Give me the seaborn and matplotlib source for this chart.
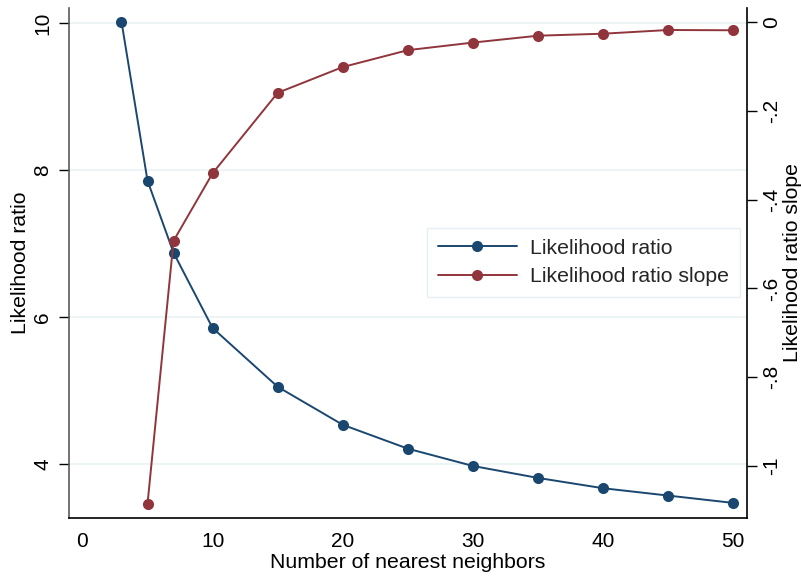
import matplotlib
matplotlib.use("Agg")
import matplotlib.pyplot as plt
import seaborn as sns
import pandas as pd
from matplotlib.lines import Line2D

# Data
k_ratio = [3, 5, 7, 10, 15, 20, 25, 30, 35, 40, 45, 50]
likelihood_ratio = [10.02, 7.855, 6.874, 5.85, 5.05, 4.533, 4.208, 3.973, 3.81, 3.67, 3.57, 3.47]
k_slope = [5, 7, 10, 15, 20, 25, 30, 35, 40, 45, 50]
likelihood_slope = [-1.085, -0.493, -0.341, -0.160, -0.102, -0.064, -0.047, -0.0315, -0.027, -0.0187, -0.0193]

x_ticks = [0, 10, 20, 30, 40, 50]
left_ticks = [4, 6, 8, 10]
right_ticks = [0, -0.2, -0.4, -0.6, -0.8, -1]
right_tick_labels = ["0", "-.2", "-.4", "-.6", "-.8", "-1"]

BLUE = "#1a476f"
RED = "#90353b"
GRID = "#eaf2f3"

sns.set_theme(style="white")
plt.rcParams["font.family"] = ["Liberation Sans", "DejaVu Sans"]

FS = 15
fig = plt.figure(figsize=(8.01, 5.76), dpi=100)
ax = fig.add_axes([69 / 801, 1 - 518 / 576, (747 - 69) / 801, (518 - 8) / 576])
ax2 = ax.twinx()

df1 = pd.DataFrame({"k": k_ratio, "v": likelihood_ratio})
df2 = pd.DataFrame({"k": k_slope, "v": likelihood_slope})

sns.lineplot(data=df1, x="k", y="v", ax=ax, color=BLUE, marker="o", markersize=8,
             markeredgewidth=0, linewidth=1.4, legend=False)
sns.lineplot(data=df2, x="k", y="v", ax=ax2, color=RED, marker="o", markersize=8,
             markeredgewidth=0, linewidth=1.4, legend=False)

ax.set_xlim(-1.03, 51.05)
ax.set_ylim(3.265, 10.204)
ax2.set_ylim(-1.1165, 0.0308)

ax.set_xticks(x_ticks)
ax.set_yticks(left_ticks)
ax.set_yticklabels([str(t) for t in left_ticks], rotation=90, va="center")
ax2.set_yticks(right_ticks)
ax2.set_yticklabels(right_tick_labels, rotation=90, va="center")

for a in (ax, ax2):
    a.tick_params(axis="both", direction="out", length=7, width=1, color="black",
                  labelsize=FS, pad=6, labelcolor="black")
    a.grid(False)
ax.tick_params(axis="x", pad=3)
ax.tick_params(axis="y", pad=5)
ax2.tick_params(axis="y", pad=4)

for t in left_ticks:
    ax.axhline(t, color=GRID, linewidth=1.2, zorder=0)

ax.spines["top"].set_visible(False)
ax2.spines["top"].set_visible(False)
ax.spines["right"].set_visible(False)
ax2.spines["left"].set_visible(False)
ax2.spines["bottom"].set_visible(False)
ax.spines["left"].set_color("#5a5a5a")
ax.spines["bottom"].set_color("black")
ax2.spines["right"].set_color("black")
for s in ("left", "bottom"):
    ax.spines[s].set_linewidth(1.2)
ax2.spines["right"].set_linewidth(1.2)

ax.set_xlabel("Number of nearest neighbors", fontsize=15.3, color="black")
ax.set_ylabel("Likelihood ratio", fontsize=15.3, color="black")
ax2.set_ylabel("Likelihood ratio slope", fontsize=15.3, color="black")
ax.xaxis.set_label_coords(0.5, -0.069)
ax.yaxis.set_label_coords(-0.057, 0.5)
ax2.yaxis.set_label_coords(1.053, 0.5)

handles = [
    Line2D([], [], color=BLUE, marker="o", markersize=8, markeredgewidth=0, linewidth=1.4),
    Line2D([], [], color=RED, marker="o", markersize=8, markeredgewidth=0, linewidth=1.4),
]
leg = ax2.legend(handles, ["Likelihood ratio", "Likelihood ratio slope"],
                 loc="upper right", bbox_to_anchor=(0.9897, 0.5686), borderaxespad=0,
                 fontsize=15.3, frameon=True, fancybox=False, handlelength=3.7,
                 handletextpad=0.65, labelspacing=0.45, borderpad=0.5)
leg.get_frame().set_edgecolor("#e0ebee")
leg.get_frame().set_linewidth(1.0)

fig.savefig("out.png", dpi=100)
